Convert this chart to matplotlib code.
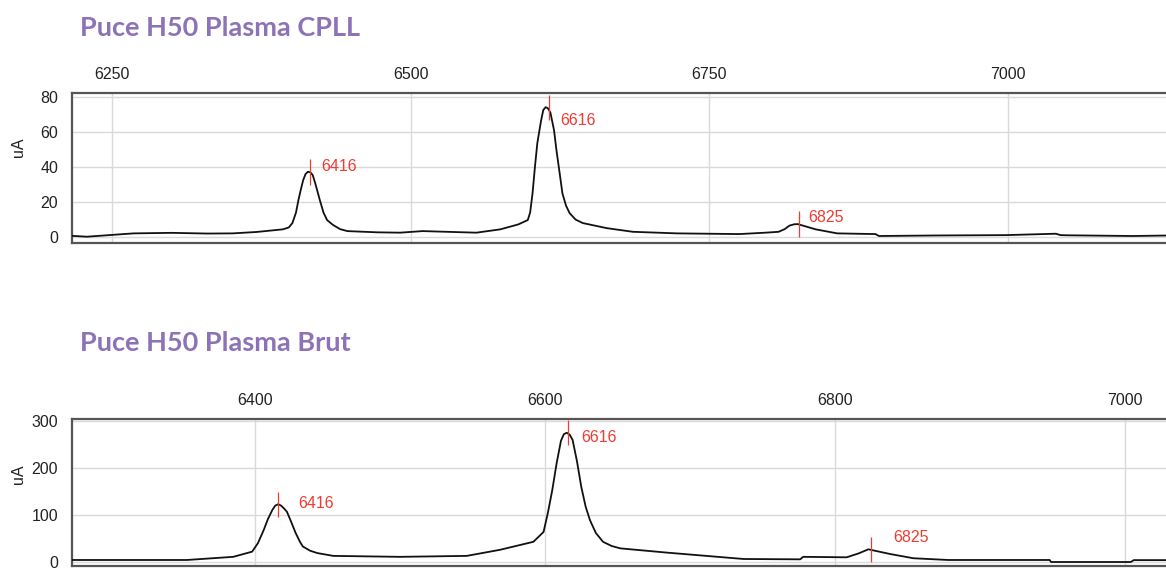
import matplotlib.pyplot as plt

cpll_mz = [6216, 6229, 6268, 6300, 6330, 6351, 6371, 6393, 6398, 6401,
           6404, 6406, 6408, 6410, 6412, 6414, 6416, 6418, 6420, 6422,
           6424, 6427, 6430, 6435, 6441, 6447, 6472, 6491, 6510, 6555,
           6575, 6590, 6598, 6600, 6602, 6604, 6606, 6609, 6611, 6613,
           6615, 6617, 6620, 6622, 6625, 6627, 6630, 6633, 6638, 6644,
           6664, 6686, 6723, 6775, 6797, 6808, 6813, 6817, 6821, 6824,
           6830, 6839, 6857, 6889, 6892, 6940, 6998, 7040, 7044, 7050,
           7104, 7136]
cpll_ua = [0.7, 0.2, 2.1, 2.4, 2.0, 2.1, 2.9, 4.4, 5.5, 8,
           14, 21, 27, 32.5, 36, 37.3, 37, 35.4, 31, 26,
           21, 14, 9.7, 6.9, 4.5, 3.4, 2.7, 2.5, 3.4, 2.5,
           4.4, 7.2, 9.7, 14, 25, 40, 53.6, 66, 72.6, 74.2,
           73.5, 71, 61, 49.7, 35, 25, 18, 13.7, 10, 8,
           5.1, 3, 2.1, 1.7, 2.5, 3, 4.5, 6.5, 7.3, 7.4,
           6.2, 4.4, 2.1, 1.7, 0.6, 0.9, 1.1, 1.9, 1.1, 1.0,
           0.6, 0.9]

brut_mz = [6274, 6353, 6385, 6398, 6402, 6406, 6409, 6412, 6414, 6416,
           6418, 6420, 6422, 6425, 6428, 6431, 6433, 6438, 6443, 6454,
           6500, 6546, 6569, 6592, 6599, 6602, 6605, 6608, 6611, 6613,
           6615, 6617, 6619, 6622, 6625, 6628, 6631, 6635, 6640, 6646,
           6652, 6684, 6737, 6776, 6778, 6808, 6816, 6823, 6838, 6854,
           6878, 6948, 6949, 7004, 7006, 7031]
brut_ua = [4.3, 4.3, 11, 22, 40, 68, 92, 111, 120, 123,
           120, 114, 107, 85, 62, 43, 33, 24, 19, 13,
           11, 13, 26, 43, 64, 105, 153, 210, 258, 272,
           275, 271, 260, 215, 160, 118, 89, 62, 43, 34,
           29, 20, 6.4, 5.7, 11, 10, 18, 27, 17, 8,
           4.3, 4.3, 0, 0, 4, 4]

peak_labels = [6416, 6616, 6825]
cpll_peak_ua = [37.3, 74, 7.4]
brut_peak_ua = [123, 275, 27]

cpll_xticks = [6250, 6500, 6750, 7000]
cpll_yticks = [0, 20, 40, 60, 80]
brut_xticks = [6400, 6600, 6800, 7000]
brut_yticks = [0, 100, 200, 300]

title_col = '#8C72B6'
red = '#EE3B33'

plt.rcParams['font.family'] = ['Liberation Sans', 'DejaVu Sans']

fig = plt.figure(figsize=(11.66, 5.68), dpi=100)


def panel(rect, mz, ua, xlim, ylim, xticks, yticks, peaks_ua, offs, title, title_y, lab_y):
    ax = fig.add_axes(rect)
    ax.plot(mz, ua, color='#111111', lw=1.3, zorder=3)
    ax.set_xlim(*xlim)
    ax.set_ylim(*ylim)
    ax.set_xticks(xticks)
    ax.set_yticks(yticks)
    ax.xaxis.tick_top()
    ax.tick_params(length=0, labelsize=11.5, colors='#222222')
    ax.tick_params(axis='x', pad=8)
    ax.tick_params(axis='y', pad=10)
    ax.grid(True, color='#DADADA', lw=1.0)
    ax.set_axisbelow(True)
    for s in ax.spines.values():
        s.set_color('#555555')
        s.set_linewidth(1.6)
    ax.set_ylabel('uA', fontsize=11.5, color='#222222')
    ax.yaxis.set_label_coords(-0.042, lab_y)
    half = 0.085 * (ylim[1] - ylim[0])
    for m, h, (dx, dy) in zip(peak_labels, peaks_ua, offs):
        ax.vlines(m, h - half, h + half, color=red, lw=0.9, zorder=4)
        ax.annotate(str(m), (m, h), xytext=(dx, dy), textcoords='offset pixels',
                    color=red, fontsize=11.5, va='center', ha='left')
    fig.text(80 / 1166, title_y, title, color=title_col, fontsize=19.5,
             fontweight='bold', family='Lato', va='center', ha='left')
    return ax


panel([72 / 1166, 1 - 243 / 568, 1098 / 1166, 150 / 568],
      cpll_mz, cpll_ua, (6216.5, 7135.6), (-3.4, 82.3),
      cpll_xticks, cpll_yticks, cpll_peak_ua,
      [(11, 5), (11, -13), (9, 7)],
      'Puce H50 Plasma CPLL', 1 - 28 / 568, 0.64)

panel([72 / 1166, 1 - 566 / 568, 1098 / 1166, 147 / 568],
      brut_mz, brut_ua, (6273.8, 7031), (-8.5, 304.3),
      brut_xticks, brut_yticks, brut_peak_ua,
      [(20, 1), (13, -5), (22, 12)],
      'Puce H50 Plasma Brut', 1 - 343 / 568, 0.626)

fig.savefig('out.png', dpi=100)
